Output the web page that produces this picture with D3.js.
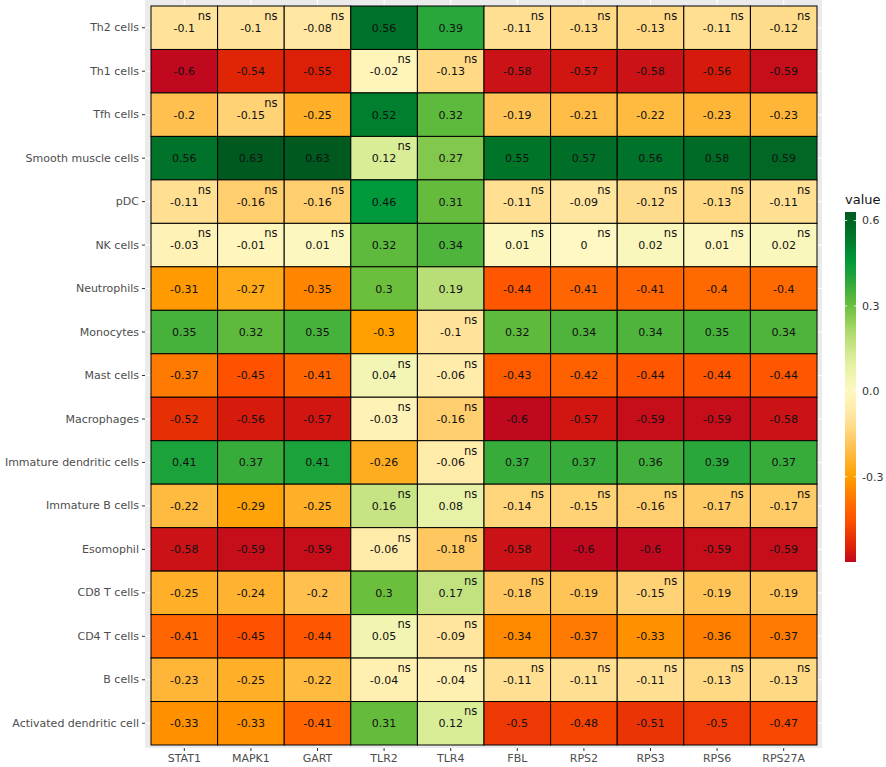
<!DOCTYPE html>
<html>
<head>
<meta charset="utf-8">
<script src="https://cdn.jsdelivr.net/npm/d3@7"></script>
<style>
  body { margin: 0; background: #fff; }
  text { font-family: "DejaVu Sans", Verdana, sans-serif; }
</style>
</head>
<body>
<svg id="chart" width="886" height="767"></svg>
<script>
const genes = ['STAT1', 'MAPK1', 'GART', 'TLR2', 'TLR4', 'FBL', 'RPS2', 'RPS3', 'RPS6', 'RPS27A'];
const cells = ['Th2 cells', 'Th1 cells', 'Tfh cells', 'Smooth muscle cells', 'pDC', 'NK cells',
  'Neutrophils', 'Monocytes', 'Mast cells', 'Macrophages', 'Immature dendritic cells',
  'Immature B cells', 'Esomophil', 'CD8 T cells', 'CD4 T cells', 'B cells', 'Activated dendritic cell'];

// correlation per cell type (row) and gene (column)
const values = [
  [-0.1, -0.1, -0.08, 0.56, 0.39, -0.11, -0.13, -0.13, -0.11, -0.12],
  [-0.6, -0.54, -0.55, -0.02, -0.13, -0.58, -0.57, -0.58, -0.56, -0.59],
  [-0.2, -0.15, -0.25, 0.52, 0.32, -0.19, -0.21, -0.22, -0.23, -0.23],
  [0.56, 0.63, 0.63, 0.12, 0.27, 0.55, 0.57, 0.56, 0.58, 0.59],
  [-0.11, -0.16, -0.16, 0.46, 0.31, -0.11, -0.09, -0.12, -0.13, -0.11],
  [-0.03, -0.01, 0.01, 0.32, 0.34, 0.01, 0, 0.02, 0.01, 0.02],
  [-0.31, -0.27, -0.35, 0.3, 0.19, -0.44, -0.41, -0.41, -0.4, -0.4],
  [0.35, 0.32, 0.35, -0.3, -0.1, 0.32, 0.34, 0.34, 0.35, 0.34],
  [-0.37, -0.45, -0.41, 0.04, -0.06, -0.43, -0.42, -0.44, -0.44, -0.44],
  [-0.52, -0.56, -0.57, -0.03, -0.16, -0.6, -0.57, -0.59, -0.59, -0.58],
  [0.41, 0.37, 0.41, -0.26, -0.06, 0.37, 0.37, 0.36, 0.39, 0.37],
  [-0.22, -0.29, -0.25, 0.16, 0.08, -0.14, -0.15, -0.16, -0.17, -0.17],
  [-0.58, -0.59, -0.59, -0.06, -0.18, -0.58, -0.6, -0.6, -0.59, -0.59],
  [-0.25, -0.24, -0.2, 0.3, 0.17, -0.18, -0.19, -0.15, -0.19, -0.19],
  [-0.41, -0.45, -0.44, 0.05, -0.09, -0.34, -0.37, -0.33, -0.36, -0.37],
  [-0.23, -0.25, -0.22, -0.04, -0.04, -0.11, -0.11, -0.11, -0.13, -0.13],
  [-0.33, -0.33, -0.41, 0.31, 0.12, -0.5, -0.48, -0.51, -0.5, -0.47]
];

// 1 = not significant ("ns")
const notSig = [
  [1, 1, 1, 0, 0, 1, 1, 1, 1, 1],
  [0, 0, 0, 1, 1, 0, 0, 0, 0, 0],
  [0, 1, 0, 0, 0, 0, 0, 0, 0, 0],
  [0, 0, 0, 1, 0, 0, 0, 0, 0, 0],
  [1, 1, 1, 0, 0, 1, 1, 1, 1, 1],
  [1, 1, 1, 0, 0, 1, 1, 1, 1, 1],
  [0, 0, 0, 0, 0, 0, 0, 0, 0, 0],
  [0, 0, 0, 0, 1, 0, 0, 0, 0, 0],
  [0, 0, 0, 1, 1, 0, 0, 0, 0, 0],
  [0, 0, 0, 1, 1, 0, 0, 0, 0, 0],
  [0, 0, 0, 0, 1, 0, 0, 0, 0, 0],
  [0, 0, 0, 1, 1, 1, 1, 1, 1, 1],
  [0, 0, 0, 1, 1, 0, 0, 0, 0, 0],
  [0, 0, 0, 0, 1, 1, 0, 1, 0, 0],
  [0, 0, 0, 1, 1, 0, 0, 0, 0, 0],
  [0, 0, 0, 1, 1, 1, 1, 1, 1, 1],
  [0, 0, 0, 0, 1, 0, 0, 0, 0, 0]
];

const legendTicks = [-0.3, 0, 0.3, 0.6];
const legendLabels = ['-0.3', '0.0', '0.3', '0.6'];

const svg = d3.select('#chart');

const panel = { x0: 145, x1: 822, y0: 0, y1: 748 };

const x = d3.scaleBand().domain(genes).range([151, 817]);
const y = d3.scaleBand().domain(cells).range([6, 745]);

const color = d3.scaleLinear()
  .domain([-0.6, -0.55, -0.45, -0.4, -0.3, -0.2, -0.1, 0, 0.1, 0.2, 0.3, 0.4, 0.46, 0.52, 0.63])
  .range(['#c0081f', '#dc2008', '#ff5200', '#ff6a00', '#ffa000', '#ffc050', '#ffe39a', '#fff8c2',
    '#e2f1a0', '#b4dc72', '#6cbf3c', '#22a43a', '#00993b', '#007f2e', '#005a1f'])
  .clamp(true);

// panel background and grid
svg.append('rect')
  .attr('x', panel.x0).attr('y', panel.y0)
  .attr('width', panel.x1 - panel.x0).attr('height', panel.y1 - panel.y0)
  .attr('fill', '#ebebeb');

const grid = svg.append('g').attr('stroke', '#fff').attr('stroke-width', 1.1);
grid.selectAll('line.gx').data(genes).enter().append('line')
  .attr('x1', d => x(d) + x.bandwidth() / 2).attr('x2', d => x(d) + x.bandwidth() / 2)
  .attr('y1', panel.y0).attr('y2', panel.y1);
grid.selectAll('line.gy').data(cells).enter().append('line')
  .attr('y1', d => y(d) + y.bandwidth() / 2).attr('y2', d => y(d) + y.bandwidth() / 2)
  .attr('x1', panel.x0).attr('x2', panel.x1);

const tiles = [];
cells.forEach((c, i) => genes.forEach((g, j) => {
  tiles.push({ cell: c, gene: g, value: values[i][j], ns: notSig[i][j] === 1 });
}));

svg.append('g').selectAll('rect').data(tiles).enter().append('rect')
  .attr('x', d => x(d.gene)).attr('y', d => y(d.cell))
  .attr('width', x.bandwidth()).attr('height', y.bandwidth())
  .attr('fill', d => color(d.value))
  .attr('stroke', '#000').attr('stroke-width', 1);

const labels = svg.append('g').attr('fill', '#111').attr('font-size', 11);
labels.selectAll('text.val').data(tiles).enter().append('text')
  .attr('x', d => x(d.gene) + x.bandwidth() / 2)
  .attr('y', d => y(d.cell) + y.bandwidth() / 2)
  .attr('text-anchor', 'middle').attr('dy', '0.36em')
  .text(d => String(d.value));
labels.selectAll('text.ns').data(tiles.filter(d => d.ns)).enter().append('text')
  .attr('x', d => x(d.gene) + x.bandwidth() / 2 + 20)
  .attr('y', d => y(d.cell) + y.bandwidth() / 2 - 12)
  .attr('text-anchor', 'middle').attr('dy', '0.36em')
  .attr('font-size', 11.5)
  .text('ns');

// axes
const yAxis = svg.append('g').attr('transform', `translate(${panel.x0},0)`)
  .call(d3.axisLeft(y).tickSize(3).tickPadding(3));
const xAxis = svg.append('g').attr('transform', `translate(0,${panel.y1})`)
  .call(d3.axisBottom(x).tickSize(3).tickPadding(3));
[xAxis, yAxis].forEach(a => {
  a.select('.domain').remove();
  a.selectAll('.tick line').attr('stroke', '#333');
  a.selectAll('.tick text').attr('fill', '#4d4d4d')
    .style('font-family', '"DejaVu Sans", Verdana, sans-serif');
});
yAxis.selectAll('.tick text').attr('font-size', 11);
xAxis.selectAll('.tick text').attr('font-size', 11);

// colour bar legend
const leg = { x: 845, w: 11, top: 212, bottom: 562 };
const ly = d3.scaleLinear().domain([-0.6, 0.63]).range([leg.bottom, leg.top]);

const grad = svg.append('defs').append('linearGradient')
  .attr('id', 'bar').attr('x1', 0).attr('y1', 1).attr('x2', 0).attr('y2', 0);
grad.selectAll('stop').data(d3.range(0, 1.0001, 0.02)).enter().append('stop')
  .attr('offset', d => d)
  .attr('stop-color', d => color(-0.6 + d * 1.23));

svg.append('rect')
  .attr('x', leg.x).attr('y', leg.top)
  .attr('width', leg.w).attr('height', leg.bottom - leg.top)
  .attr('fill', 'url(#bar)');

const lt = svg.append('g');
lt.selectAll('line.l').data(legendTicks).enter().append('line')
  .attr('x1', leg.x).attr('x2', leg.x + 2.2)
  .attr('y1', d => ly(d)).attr('y2', d => ly(d))
  .attr('stroke', '#fff').attr('stroke-width', 0.8);
lt.selectAll('line.r').data(legendTicks).enter().append('line')
  .attr('x1', leg.x + leg.w - 2.2).attr('x2', leg.x + leg.w)
  .attr('y1', d => ly(d)).attr('y2', d => ly(d))
  .attr('stroke', '#fff').attr('stroke-width', 0.8);
lt.selectAll('text').data(legendTicks).enter().append('text')
  .attr('x', leg.x + leg.w + 6).attr('y', d => ly(d))
  .attr('dy', '0.36em').attr('font-size', 11).attr('fill', '#333')
  .text((d, i) => legendLabels[i]);

svg.append('text')
  .attr('x', leg.x).attr('y', 204)
  .attr('font-size', 13).attr('fill', '#111')
  .text('value');
</script>
</body>
</html>
